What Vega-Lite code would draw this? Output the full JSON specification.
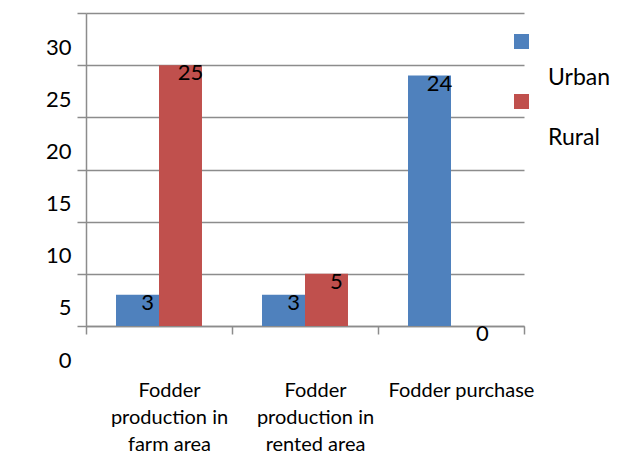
{
  "$schema": "https://vega.github.io/schema/vega-lite/v6.json",
  "autosize": {"type": "none"},
  "padding": {"left": 86, "top": 13, "right": 93, "bottom": 127},
  "width": 438,
  "height": 313,
  "background": "white",
  "config": {
    "view": {"stroke": null},
    "font": "Lato",
    "axis": {
      "domainColor": "#8c8c8c",
      "domainWidth": 1.5,
      "tickColor": "#8c8c8c",
      "tickWidth": 1.5,
      "gridColor": "#8c8c8c",
      "gridWidth": 1.5,
      "labelColor": "black",
      "labelFont": "Lato",
      "title": null
    }
  },
  "data": {
    "values": [
      {"category": "Fodder production in farm area", "series": "Urban", "value": 3},
      {"category": "Fodder production in farm area", "series": "Rural", "value": 25},
      {"category": "Fodder production in rented area", "series": "Urban", "value": 3},
      {"category": "Fodder production in rented area", "series": "Rural", "value": 5},
      {"category": "Fodder purchase", "series": "Urban", "value": 24},
      {"category": "Fodder purchase", "series": "Rural", "value": 0}
    ]
  },
  "encoding": {
    "x": {
      "field": "category",
      "type": "nominal",
      "sort": null,
      "scale": {"paddingInner": 0, "paddingOuter": 0},
      "axis": {
        "title": null,
        "labelAngle": 0,
        "tickBand": "extent",
        "tickSize": 8,
        "labelPadding": 46,
        "labelOffset": 10,
        "labelFontSize": 20,
        "labelLineHeight": 27,
        "labelLimit": 300,
        "labelExpr": "!datum.label ? '' : datum.label == 'Fodder purchase' ? datum.label : ['Fodder', slice(datum.label, 7, 20), slice(datum.label, 21)]"
      }
    },
    "xOffset": {
      "field": "series",
      "type": "nominal",
      "sort": ["Urban", "Rural"],
      "scale": {"paddingInner": 0, "paddingOuter": 0.698}
    },
    "y": {
      "field": "value",
      "type": "quantitative",
      "scale": {"domain": [0, 30], "nice": false},
      "axis": {
        "title": null,
        "values": [0, 5, 10, 15, 20, 25, 30],
        "grid": true,
        "tickSize": 9,
        "labelPadding": 6,
        "labelOffset": 34,
        "labelFontSize": 22
      }
    }
  },
  "layer": [
    {
      "mark": {"type": "bar"},
      "encoding": {
        "color": {
          "field": "series",
          "type": "nominal",
          "sort": ["Urban", "Rural"],
          "scale": {"domain": ["Urban", "Rural"], "range": ["#4F81BD", "#C0504D"]},
          "legend": {
            "title": null,
            "orient": "none",
            "legendX": 424,
            "legendY": 17,
            "symbolType": "square",
            "symbolSize": 225,
            "symbolStrokeWidth": 0,
            "symbolOpacity": 1,
            "labelFontSize": 23,
            "labelFont": "Lato",
            "labelColor": "black",
            "labelOffset": 15,
            "labelBaseline": "top",
            "labelExpr": "['', datum.label]",
            "rowPadding": -11,
            "padding": 0
          }
        }
      }
    },
    {
      "mark": {"type": "text", "baseline": "top", "align": "center", "dx": 10, "dy": -2, "fontSize": 22, "font": "Lato", "color": "black"},
      "encoding": {"text": {"field": "value", "type": "quantitative"}}
    }
  ]
}
